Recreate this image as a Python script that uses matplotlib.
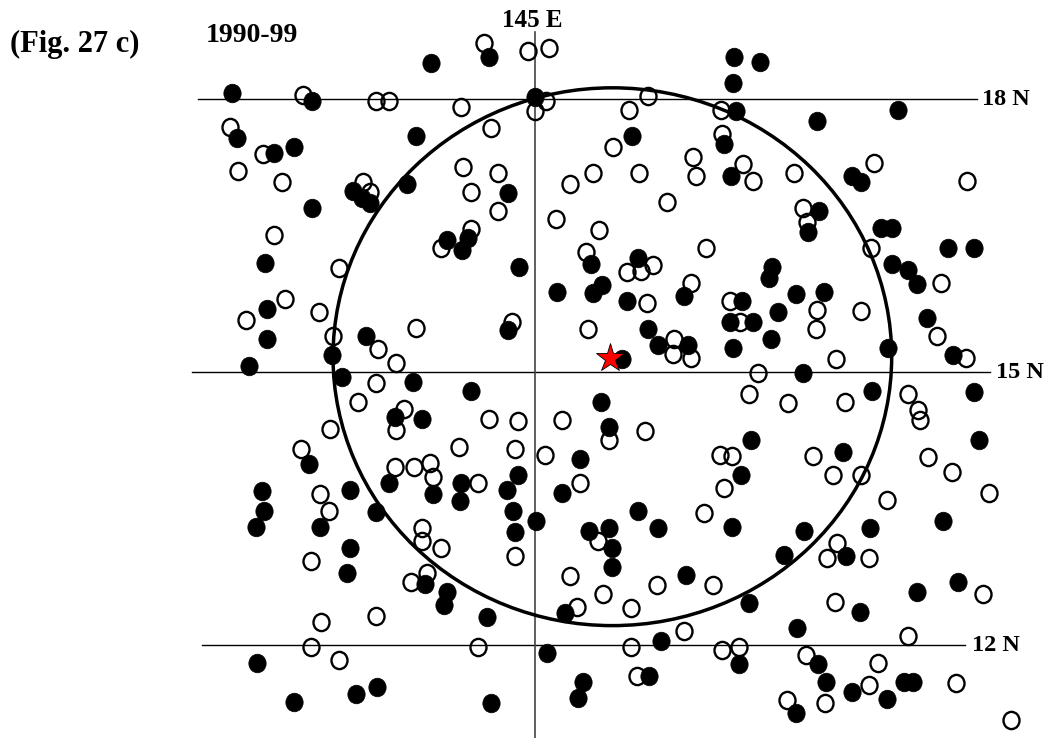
import matplotlib.pyplot as plt
from matplotlib.patches import Ellipse
from matplotlib.path import Path
from matplotlib.transforms import Affine2D

# storm positions (longitude E, latitude N)
filled_lon = [144.49, 143.86, 147.19, 147.47, 147.18, 141.67, 142.55, 145.00, 147.21, 148.99,
              148.10, 141.73, 143.69, 146.07, 147.08, 142.13, 142.35, 143.00, 143.10, 143.19,
              143.59, 144.70, 147.15, 148.48, 148.58, 142.55, 148.12, 148.00, 148.80, 148.92,
              144.03, 144.20, 144.26, 149.54, 149.82, 145.62, 146.13, 144.82, 142.03, 147.60,
              147.57, 148.92, 149.10, 149.20, 142.05, 145.24, 145.74, 145.64, 146.01, 146.64,
              147.27, 147.87, 148.18, 147.67, 147.14, 147.40, 149.31, 144.70, 146.24, 142.05,
              142.77, 143.14, 142.88, 141.86, 146.35, 146.68, 147.18, 147.59, 148.88, 149.59,
              145.96, 147.95, 143.66, 144.30, 148.70, 149.82, 143.46, 143.76, 145.73, 145.81,
              147.37, 149.88, 148.38, 142.52, 145.49, 144.81, 144.69, 145.30, 147.26, 142.00,
              142.97, 143.40, 143.88, 144.19, 144.18, 142.02, 141.93, 142.64, 143.25, 142.97,
              144.76, 144.78, 145.01, 146.13, 146.35, 147.16, 145.59, 145.81, 145.85, 149.48,
              147.96, 148.68, 147.74, 148.42, 145.85, 145.33, 146.66, 147.35, 148.57, 149.20,
              149.65, 142.93, 143.79, 144.03, 144.00, 144.47, 147.88, 146.38, 145.13, 147.24,
              148.11, 141.95, 146.25, 145.53, 145.47, 144.52, 142.35, 143.03, 143.26, 148.20,
              148.48, 149.05, 149.15, 148.87, 147.87]
filled_lat = [18.46, 18.40, 18.46, 18.41, 18.18, 18.07, 17.98, 18.02, 17.87, 17.88,
              17.76, 17.57, 17.59, 17.60, 17.51, 17.41, 17.48, 16.99, 16.91, 16.86,
              17.07, 16.97, 17.16, 17.16, 17.09, 16.80, 16.77, 16.54, 16.58, 16.58,
              16.45, 16.34, 16.47, 16.37, 16.37, 16.19, 16.25, 16.16, 16.20, 16.16,
              16.04, 16.19, 16.12, 15.97, 15.69, 15.88, 15.96, 15.87, 15.78, 15.84,
              15.78, 15.86, 15.88, 15.66, 15.55, 15.55, 15.59, 15.46, 15.48, 15.36,
              15.19, 15.40, 14.95, 15.07, 15.30, 15.30, 15.27, 15.37, 15.27, 15.19,
              15.15, 14.99, 14.89, 14.79, 14.79, 14.78, 14.51, 14.49, 14.67, 14.40,
              14.26, 14.26, 14.12, 13.99, 14.05, 13.87, 13.70, 13.67, 13.87, 13.69,
              13.71, 13.78, 13.66, 13.78, 13.58, 13.48, 13.30, 13.30, 13.46, 13.07,
              13.47, 13.24, 13.37, 13.48, 13.29, 13.30, 13.25, 13.29, 13.07, 13.36,
              13.26, 13.29, 12.99, 12.98, 12.86, 12.35, 12.77, 12.46, 12.37, 12.58,
              12.69, 12.79, 12.67, 12.58, 12.44, 12.31, 12.19, 12.05, 11.91, 11.79,
              11.79, 11.80, 11.66, 11.59, 11.42, 11.36, 11.38, 11.46, 11.54, 11.59,
              11.49, 11.59, 11.59, 11.41, 11.26]

open_lon = [144.44, 144.92, 145.15, 142.45, 143.25, 143.40, 145.12, 145.00, 144.19, 146.24,
            146.03, 147.04, 141.65, 144.52, 145.86, 147.05, 142.01, 146.74, 147.29, 148.73,
            144.21, 141.74, 142.22, 143.11, 143.19, 144.30, 144.59, 144.59, 145.38, 145.64,
            146.14, 146.77, 147.40, 147.85, 149.75, 146.45, 147.95, 145.23, 147.99, 142.13,
            145.70, 143.97, 144.30, 146.88, 148.69, 145.56, 146.01, 146.16, 146.30, 142.85,
            142.25, 141.82, 142.63, 146.23, 146.71, 147.14, 149.46, 148.10, 148.09, 147.25,
            148.58, 144.75, 145.58, 143.69, 142.78, 143.27, 143.47, 146.53, 146.52, 146.71,
            149.42, 149.74, 148.31, 147.45, 143.25, 147.35, 147.78, 148.41, 149.10, 149.21,
            149.23, 143.05, 143.56, 143.47, 142.75, 144.49, 144.81, 145.30, 145.81, 146.21,
            148.05, 149.32, 148.27, 148.58, 149.58, 148.87, 149.99, 144.16, 142.43, 144.78,
            145.11, 147.03, 147.16, 144.37, 145.49, 147.08, 142.64, 143.46, 143.67, 143.85,
            143.88, 142.74, 143.76, 143.76, 143.97, 144.78, 146.86, 145.69, 148.32, 148.21,
            148.67, 142.54, 145.38, 145.75, 145.46, 146.05, 146.34, 146.96, 148.30, 149.92,
            143.81, 143.64, 142.65, 143.25, 149.10, 146.64, 146.05, 147.05, 147.24, 147.98,
            148.77, 142.54, 142.85, 144.37, 146.12, 148.67, 149.63, 147.77, 148.19, 150.23]
open_lat = [18.62, 18.53, 18.56, 18.05, 17.98, 17.98, 17.98, 17.87, 17.91, 18.03,
            17.88, 17.88, 17.69, 17.68, 17.48, 17.62, 17.40, 17.37, 17.29, 17.30,
            17.26, 17.21, 17.09, 17.09, 16.98, 16.98, 17.19, 16.77, 17.07, 17.19,
            17.19, 17.16, 17.10, 17.19, 17.10, 16.87, 16.80, 16.68, 16.65, 16.51,
            16.56, 16.37, 16.57, 16.36, 16.37, 16.32, 16.10, 16.11, 16.18, 16.15,
            15.80, 15.57, 15.66, 15.76, 15.98, 15.78, 15.98, 15.68, 15.48, 15.55,
            15.67, 15.55, 15.47, 15.49, 15.40, 15.26, 15.10, 15.36, 15.20, 15.16,
            15.40, 15.16, 15.15, 14.99, 14.88, 14.76, 14.66, 14.67, 14.76, 14.58,
            14.47, 14.67, 14.60, 14.36, 14.38, 14.49, 14.46, 14.48, 14.25, 14.35,
            14.08, 14.07, 13.87, 13.87, 13.90, 13.60, 13.67, 14.18, 14.16, 14.16,
            14.09, 14.09, 14.08, 13.78, 13.78, 13.73, 13.66, 13.96, 13.96, 14.00,
            13.85, 13.47, 13.29, 13.15, 13.07, 12.98, 13.45, 13.14, 13.12, 12.96,
            12.96, 12.93, 12.76, 12.56, 12.42, 12.41, 12.66, 12.66, 12.47, 12.56,
            12.79, 12.69, 12.26, 12.32, 12.10, 12.16, 11.98, 11.95, 11.98, 11.89,
            11.80, 11.98, 11.84, 11.98, 11.66, 11.56, 11.58, 11.40, 11.36, 11.18]

star_lon, star_lat = 145.82, 15.16
circle_lon, circle_lat = 145.85, 15.17
circle_w, circle_h = 6.14, 5.91

lat_lines = [18, 15, 12]
lat_from = [141.30, 141.23, 141.34]
lat_to = [149.86, 150.00, 149.73]
lat_labels = ['18 N', '15 N', '12 N']
lat_label_lon = [149.91, 150.07, 149.80]

lon_line = 145
lon_line_top = 18.74

font = dict(family='Liberation Serif', weight='bold')

fig = plt.figure(figsize=(10.5, 7.38), dpi=100)
ax = fig.add_axes([0, 0, 1, 1])
ax.set_xlim(139.12, 150.66)
ax.set_ylim(10.98, 19.09)
ax.axis('off')

for lat, x0, x1, lab, xl in zip(lat_lines, lat_from, lat_to, lat_labels, lat_label_lon):
    ax.plot([x0, x1], [lat, lat], color='black', lw=1.0, zorder=1)
    ax.text(xl, lat, lab, fontsize=17.5, ha='left', va='center', **font)

ax.plot([lon_line, lon_line], [10.98, lon_line_top], color='#444444', lw=1.2, zorder=1)
ax.text(lon_line - 0.03, 18.79, '145 E', fontsize=18, ha='center', va='baseline', **font)

ax.add_patch(Ellipse((circle_lon, circle_lat), circle_w, circle_h, fill=False,
                     ec='black', lw=2.5, zorder=2))

oval = Path.unit_circle().transformed(Affine2D().scale(0.93, 1.0))
ax.plot(open_lon, open_lat, ls='none', marker=oval, ms=12.4, mfc='none',
        mec='black', mew=1.7, zorder=3)
ax.plot(filled_lon, filled_lat, ls='none', marker=oval, ms=13.4, mfc='black',
        mec='black', mew=0.5, zorder=4)
ax.plot(star_lon, star_lat, ls='none', marker='*', ms=21, mfc='red',
        mec='black', mew=0.6, zorder=5)

fig.text(10 / 1050, 1 - 52 / 738, '(Fig. 27 c)', fontsize=22, ha='left', va='baseline', **font)
fig.text(206 / 1050, 1 - 42 / 738, '1990-99', fontsize=20, ha='left', va='baseline', **font)

plt.savefig('out.png', dpi=100)
